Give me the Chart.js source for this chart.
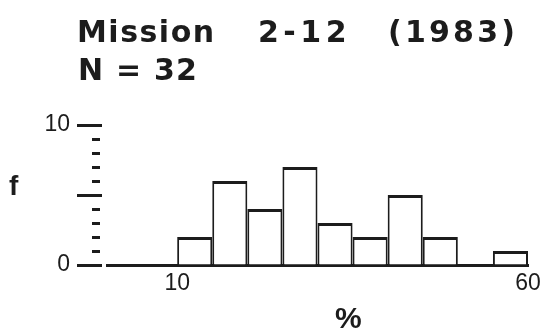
<!DOCTYPE html>
<html>
<head>
<meta charset="utf-8">
<script src="https://cdn.jsdelivr.net/npm/chart.js@4/dist/chart.umd.min.js"></script>
<style>
  body { margin: 0; background: #fff; }
  #wrap { position: relative; width: 548px; height: 336px; }
  .t { position: absolute; font-family: "DejaVu Sans", sans-serif; font-weight: bold;
       font-size: 30px; line-height: 30px; color: #1c1c1c; white-space: pre; }
  .ax { position: absolute; font-family: "Liberation Sans", sans-serif; font-weight: bold;
        color: #1c1c1c; line-height: 1; }
</style>
</head>
<body>
<div id="wrap">
  <canvas id="hist"></canvas>
  <div class="t" style="left:77px; top:17px; letter-spacing:1.5px">Mission</div>
  <div class="t" style="left:258px; top:17px; letter-spacing:4.5px">2-12</div>
  <div class="t" style="left:388px; top:17px; letter-spacing:3.2px">(1983)</div>
  <div class="t" style="left:78px; top:55px; letter-spacing:1.2px">N = 32</div>
  <div class="ax" style="left:9px; top:172px; font-size:28px">f</div>
  <div class="ax" style="left:335px; top:303px; font-size:30px">%</div>
</div>
<script>
// histogram bins (percent, 5 wide) and frequencies
const binStarts = [0, 5, 10, 15, 20, 25, 30, 35, 40, 45, 50, 55];
const counts = [0, 0, 2, 6, 4, 7, 3, 2, 5, 2, 0, 1];
const binWidth = 5;
const xTickLabels = [10, 60];
const yTickLabels = [0, 10];
const yMajor = [0, 5, 10];

const ink = "#1c1c1c";
const tickFont = { family: "Liberation Sans", size: 23 };

new Chart(document.getElementById("hist"), {
    type: "bar",
    data: {
        datasets: [{
            data: binStarts.map((s, i) => ({ x: s + binWidth / 2, y: counts[i] })),
            backgroundColor: "#fff",
            borderColor: ink,
            borderWidth: { top: 3, left: 2, right: 2, bottom: 0 },
            borderSkipped: "start",
            barPercentage: 1,
            categoryPercentage: 1,
            inflateAmount: 0
        }]
    },
    options: {
        responsive: true,
        maintainAspectRatio: false,
        animation: false,
        layout: { padding: { top: 125, right: 20, bottom: 0, left: 0 } },
        plugins: { legend: { display: false }, tooltip: { enabled: false } },
        scales: {
            x: {
                type: "linear",
                min: 0,
                max: 60,
                offset: false,
                afterFit: s => { s.height = 71; },
                grid: { offset: false, drawOnChartArea: false, drawTicks: false },
                border: { display: true, color: ink, width: 3 },
                ticks: {
                    stepSize: 10,
                    padding: 5,
                    color: ink,
                    font: tickFont,
                    maxRotation: 0,
                    autoSkip: false,
                    callback: v => xTickLabels.includes(v) ? String(v) : ""
                }
            },
            y: {
                min: 0,
                max: 10,
                afterFit: s => { s.width = 107; },
                border: { display: false },
                grid: {
                    drawOnChartArea: false,
                    drawTicks: true,
                    tickLength: 30,
                    tickColor: ink,
                    tickWidth: c => yMajor.includes(c.tick.value) ? 3 : 3,
                    tickBorderDash: c => yMajor.includes(c.tick.value) ? [25, 100] : [0, 15, 8, 100]
                },
                ticks: {
                    stepSize: 1,
                    padding: 7,
                    color: ink,
                    font: tickFont,
                    autoSkip: false,
                    callback: v => yTickLabels.includes(v) ? String(v) : ""
                }
            }
        }
    }
});
</script>
</body>
</html>
